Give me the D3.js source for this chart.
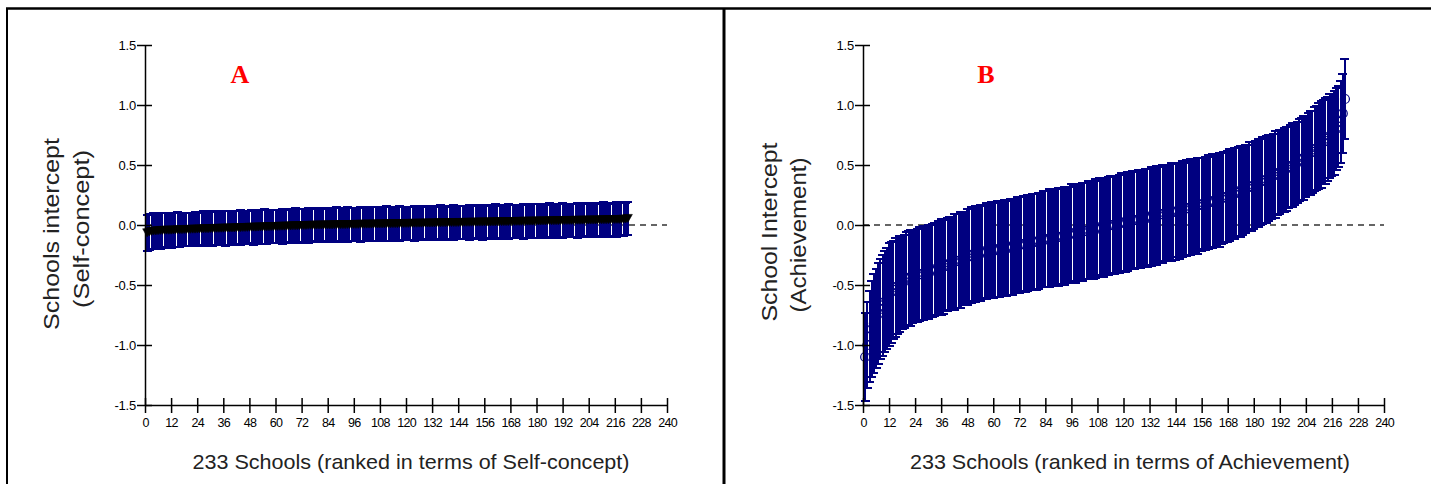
<!DOCTYPE html>
<html>
<head>
<meta charset="utf-8">
<script src="https://cdn.jsdelivr.net/npm/d3@7"></script>
<style>
  body { margin: 0; background: #fff; }
  svg { display: block; }
</style>
</head>
<body>
<svg id="chart" width="1431" height="484"></svg>
<script>
// Axis ticks
const xTicks = [0, 12, 24, 36, 48, 60, 72, 84, 96, 108, 120, 132, 144, 156, 168, 180, 192, 204, 216, 228, 240];
const yTicks = [-1.5, -1.0, -0.5, 0.0, 0.5, 1.0, 1.5];

// Panel A: school intercepts for self-concept (ranked), mean and CI half-width
const selfMean = [
  -0.065,-0.058,-0.054,-0.051,-0.049,-0.047,-0.046,-0.045,-0.044,-0.043,
  -0.044,-0.043,-0.042,-0.041,-0.040,-0.040,-0.039,-0.038,-0.037,-0.037,
  -0.036,-0.035,-0.035,-0.034,-0.033,-0.033,-0.032,-0.031,-0.031,-0.030,
  -0.030,-0.029,-0.028,-0.028,-0.027,-0.027,-0.026,-0.025,-0.025,-0.024,
  -0.024,-0.023,-0.022,-0.022,-0.021,-0.021,-0.020,-0.019,-0.019,-0.018,
  -0.018,-0.017,-0.016,-0.016,-0.015,-0.015,-0.014,-0.013,-0.013,-0.012,
  -0.012,-0.011,-0.010,-0.010,-0.009,-0.009,-0.008,-0.007,-0.007,-0.006,
  -0.006,-0.005,-0.005,-0.004,-0.003,-0.003,-0.002,-0.002,-0.001,-0.001,
  0.000,0.000,0.000,0.001,0.001,0.001,0.002,0.002,0.002,0.003,
  0.003,0.003,0.004,0.004,0.004,0.005,0.005,0.005,0.006,0.006,
  0.006,0.007,0.007,0.007,0.008,0.008,0.008,0.009,0.009,0.009,
  0.010,0.010,0.010,0.011,0.011,0.011,0.012,0.012,0.012,0.013,
  0.013,0.013,0.014,0.014,0.014,0.015,0.015,0.015,0.016,0.016,
  0.016,0.017,0.017,0.017,0.018,0.018,0.018,0.019,0.019,0.019,
  0.020,0.020,0.020,0.021,0.021,0.021,0.022,0.022,0.022,0.023,
  0.023,0.023,0.024,0.024,0.024,0.025,0.025,0.025,0.026,0.026,
  0.026,0.027,0.027,0.027,0.028,0.028,0.028,0.029,0.029,0.029,
  0.030,0.030,0.030,0.031,0.031,0.031,0.032,0.032,0.032,0.033,
  0.033,0.033,0.034,0.034,0.034,0.035,0.035,0.035,0.036,0.036,
  0.036,0.037,0.037,0.037,0.038,0.038,0.038,0.039,0.039,0.039,
  0.040,0.040,0.040,0.041,0.041,0.041,0.042,0.042,0.042,0.043,
  0.043,0.043,0.044,0.044,0.045,0.045,0.046,0.046,0.047,0.048,
  0.050,0.055
];
const selfHalf = [
  0.150,0.150,0.145,0.150,0.145,0.145,0.150,0.145,0.140,0.145,
  0.140,0.145,0.140,0.140,0.145,0.140,0.140,0.135,0.140,0.140,
  0.140,0.135,0.140,0.140,0.135,0.140,0.145,0.140,0.135,0.140,
  0.145,0.140,0.140,0.135,0.140,0.140,0.145,0.140,0.140,0.135,
  0.140,0.140,0.135,0.145,0.140,0.140,0.140,0.135,0.140,0.145,
  0.140,0.135,0.140,0.140,0.145,0.140,0.135,0.140,0.140,0.140,
  0.135,0.140,0.145,0.140,0.140,0.135,0.140,0.140,0.145,0.140,
  0.140,0.140,0.135,0.140,0.145,0.140,0.140,0.135,0.140,0.140,
  0.145,0.140,0.140,0.135,0.140,0.140,0.140,0.145,0.140,0.135,
  0.140,0.140,0.145,0.140,0.140,0.140,0.135,0.140,0.145,0.140,
  0.140,0.135,0.140,0.140,0.145,0.140,0.140,0.140,0.135,0.140,
  0.145,0.140,0.140,0.135,0.140,0.140,0.145,0.140,0.140,0.140,
  0.135,0.140,0.140,0.145,0.140,0.140,0.135,0.140,0.140,0.145,
  0.140,0.140,0.140,0.135,0.140,0.145,0.140,0.140,0.135,0.140,
  0.140,0.145,0.140,0.140,0.140,0.135,0.140,0.140,0.145,0.140,
  0.140,0.135,0.140,0.140,0.145,0.140,0.140,0.140,0.135,0.140,
  0.145,0.140,0.140,0.135,0.140,0.140,0.145,0.140,0.140,0.140,
  0.135,0.140,0.140,0.145,0.140,0.140,0.135,0.140,0.140,0.145,
  0.140,0.140,0.140,0.135,0.140,0.145,0.140,0.140,0.135,0.140,
  0.140,0.145,0.140,0.140,0.140,0.135,0.140,0.140,0.145,0.140,
  0.140,0.135,0.140,0.140,0.145,0.140,0.140,0.140,0.135,0.140,
  0.145,0.140,0.140,0.135,0.140,0.140,0.145,0.140,0.140,0.140,
  0.135,0.135
];

// Panel B: school intercepts for achievement (ranked), mean and CI half-width
const achMean = [
  -1.10,-1.00,-0.93,-0.87,-0.82,-0.78,-0.74,-0.70,-0.67,-0.64,
  -0.61,-0.58,-0.56,-0.54,-0.52,-0.51,-0.49,-0.48,-0.47,-0.45,
  -0.44,-0.44,-0.43,-0.42,-0.42,-0.41,-0.41,-0.40,-0.39,-0.39,
  -0.38,-0.38,-0.37,-0.37,-0.36,-0.35,-0.35,-0.34,-0.33,-0.32,
  -0.32,-0.31,-0.30,-0.30,-0.29,-0.28,-0.28,-0.27,-0.26,-0.25,
  -0.24,-0.24,-0.23,-0.23,-0.23,-0.22,-0.22,-0.22,-0.21,-0.21,
  -0.21,-0.20,-0.20,-0.20,-0.19,-0.19,-0.19,-0.18,-0.18,-0.17,
  -0.17,-0.17,-0.16,-0.16,-0.16,-0.15,-0.15,-0.14,-0.14,-0.14,
  -0.13,-0.13,-0.12,-0.12,-0.12,-0.11,-0.11,-0.11,-0.10,-0.10,
  -0.10,-0.09,-0.09,-0.08,-0.08,-0.07,-0.07,-0.07,-0.06,-0.06,
  -0.06,-0.05,-0.05,-0.04,-0.04,-0.04,-0.03,-0.03,-0.02,-0.02,
  -0.02,-0.01,-0.01,0.00,0.00,0.00,0.01,0.01,0.02,0.02,
  0.02,0.03,0.03,0.04,0.04,0.04,0.05,0.05,0.06,0.06,
  0.06,0.07,0.07,0.08,0.08,0.08,0.09,0.09,0.10,0.10,
  0.10,0.11,0.11,0.11,0.12,0.12,0.13,0.13,0.14,0.14,
  0.15,0.15,0.16,0.16,0.17,0.17,0.18,0.18,0.19,0.19,
  0.20,0.20,0.21,0.21,0.22,0.23,0.23,0.24,0.25,0.25,
  0.26,0.27,0.28,0.28,0.29,0.30,0.31,0.32,0.32,0.33,
  0.34,0.35,0.36,0.37,0.37,0.38,0.39,0.40,0.41,0.42,
  0.43,0.44,0.45,0.46,0.47,0.48,0.49,0.50,0.51,0.52,
  0.54,0.55,0.56,0.57,0.59,0.60,0.61,0.63,0.64,0.66,
  0.67,0.69,0.70,0.72,0.74,0.75,0.77,0.80,0.82,0.86,
  0.93,1.05
];
const achHalf = [
  0.37,0.36,0.38,0.40,0.41,0.41,0.42,0.42,0.42,0.42,
  0.42,0.43,0.42,0.41,0.41,0.40,0.40,0.39,0.39,0.39,
  0.39,0.40,0.39,0.38,0.39,0.39,0.38,0.39,0.38,0.39,
  0.38,0.39,0.39,0.38,0.39,0.40,0.39,0.38,0.39,0.39,
  0.39,0.40,0.39,0.39,0.40,0.39,0.39,0.40,0.39,0.40,
  0.39,0.40,0.39,0.40,0.39,0.39,0.40,0.39,0.40,0.40,
  0.39,0.40,0.40,0.39,0.40,0.40,0.39,0.40,0.40,0.39,
  0.40,0.40,0.39,0.40,0.40,0.40,0.39,0.40,0.40,0.40,
  0.40,0.39,0.40,0.40,0.40,0.41,0.40,0.40,0.40,0.41,
  0.40,0.40,0.41,0.40,0.40,0.41,0.40,0.41,0.40,0.40,
  0.41,0.40,0.40,0.41,0.40,0.41,0.41,0.40,0.41,0.40,
  0.41,0.40,0.41,0.41,0.40,0.41,0.40,0.41,0.41,0.40,
  0.41,0.41,0.40,0.41,0.41,0.40,0.41,0.41,0.40,0.41,
  0.41,0.40,0.41,0.40,0.41,0.40,0.40,0.41,0.40,0.40,
  0.40,0.41,0.40,0.40,0.39,0.40,0.40,0.39,0.40,0.39,
  0.40,0.39,0.39,0.40,0.39,0.39,0.38,0.39,0.39,0.38,
  0.39,0.38,0.38,0.39,0.38,0.38,0.37,0.38,0.38,0.37,
  0.38,0.37,0.37,0.38,0.37,0.37,0.36,0.37,0.37,0.36,
  0.36,0.37,0.36,0.36,0.35,0.36,0.36,0.35,0.35,0.36,
  0.35,0.35,0.34,0.35,0.35,0.34,0.34,0.35,0.34,0.34,
  0.34,0.34,0.35,0.34,0.34,0.35,0.34,0.35,0.35,0.36,
  0.36,0.35,0.36,0.35,0.35,0.34,0.35,0.34,0.34,0.34,
  0.33,0.33
];

const navy = "#000080";
const svg = d3.select("#chart");

// frame lines
svg.append("line").attr("x1", 6).attr("x2", 1431).attr("y1", 8.5).attr("y2", 8.5)
  .attr("stroke", "#000").attr("stroke-width", 2.5);
svg.append("line").attr("x1", 7).attr("x2", 7).attr("y1", 8).attr("y2", 484)
  .attr("stroke", "#000").attr("stroke-width", 2);
svg.append("line").attr("x1", 724).attr("x2", 724).attr("y1", 8).attr("y2", 484)
  .attr("stroke", "#000").attr("stroke-width", 3);

function drawPanel(p) {
  const x = d3.scaleLinear().domain([0, 240]).range([p.left, p.right]);
  const y = d3.scaleLinear().domain([-1.5, 1.5]).range([405, 45]);
  const g = svg.append("g");

  // zero reference line
  g.append("line")
    .attr("x1", x(0)).attr("x2", x(240)).attr("y1", y(0)).attr("y2", y(0))
    .attr("stroke", "#333").attr("stroke-width", 1.6).attr("stroke-dasharray", "6,5");

  const pts = p.mean.map((m, i) => ({ rank: i + 1, m: m, lo: m - p.half[i], hi: m + p.half[i] }));

  const bars = g.append("g").attr("stroke", navy).attr("shape-rendering", "crispEdges");
  bars.selectAll("line.stem").data(pts).join("line").attr("class", "stem")
    .attr("x1", d => x(d.rank)).attr("x2", d => x(d.rank))
    .attr("y1", d => y(d.lo)).attr("y2", d => y(d.hi))
    .attr("stroke-width", 2);
  bars.selectAll("line.capHi").data(pts).join("line").attr("class", "capHi")
    .attr("x1", d => x(d.rank) - 4.5).attr("x2", d => x(d.rank) + 4.5)
    .attr("y1", d => y(d.hi)).attr("y2", d => y(d.hi))
    .attr("stroke-width", 2);
  bars.selectAll("line.capLo").data(pts).join("line").attr("class", "capLo")
    .attr("x1", d => x(d.rank) - 4.5).attr("x2", d => x(d.rank) + 4.5)
    .attr("y1", d => y(d.lo)).attr("y2", d => y(d.lo))
    .attr("stroke-width", 2);

  if (p.marker === "triangle") {
    g.append("g").selectAll("path").data(pts).join("path")
      .attr("d", "M-4.5,-4L4.5,-4L0,4Z")
      .attr("transform", d => `translate(${x(d.rank)},${y(d.m)})`)
      .attr("fill", "#000").attr("stroke", "#000").attr("stroke-width", 0.6);
  } else {
    g.append("g").selectAll("circle").data(pts).join("circle")
      .attr("cx", d => x(d.rank)).attr("cy", d => y(d.m)).attr("r", 4.5)
      .attr("fill", "none").attr("stroke", navy).attr("stroke-width", 1.2);
  }

  // axes
  const yAxis = g.append("g").attr("transform", `translate(${p.left},0)`)
    .call(d3.axisLeft(y).tickValues(yTicks).tickFormat(d => d.toFixed(1))
      .tickSizeOuter(0).tickSizeInner(8).tickPadding(1));
  yAxis.selectAll(".tick line").attr("x1", 7).attr("stroke-width", 1.5);
  yAxis.select(".domain").attr("stroke-width", 1.5);
  yAxis.selectAll(".tick text")
    .attr("font-family", "'Liberation Sans', Arial, sans-serif").attr("font-size", 13)
    .attr("letter-spacing", -0.2);

  const xAxis = g.append("g").attr("transform", "translate(0,405)")
    .call(d3.axisBottom(x).tickValues(xTicks).tickSizeOuter(0).tickSizeInner(8).tickPadding(5));
  xAxis.selectAll(".tick line").attr("y1", -7).attr("stroke-width", 1.5);
  xAxis.select(".domain").attr("stroke-width", 1.5);
  xAxis.selectAll(".tick text")
    .attr("font-family", "'Liberation Sans', Arial, sans-serif").attr("font-size", 12.5)
    .attr("letter-spacing", -0.7);

  // titles
  g.append("text")
    .attr("x", p.xTitleX).attr("y", 469).attr("text-anchor", "middle")
    .attr("font-family", "'Liberation Sans', Arial, sans-serif").attr("font-size", 21)
    .attr("fill", "#222").attr("textLength", p.xTitleLen).attr("lengthAdjust", "spacingAndGlyphs")
    .text(p.xTitle);

  p.yTitle.forEach((t, i) => {
    g.append("text")
      .attr("transform", `translate(${p.yTitleX[i]},${p.yTitleY[i]}) rotate(-90)`)
      .attr("text-anchor", "middle")
      .attr("font-family", "'Liberation Sans', Arial, sans-serif").attr("font-size", 22)
      .attr("fill", "#222").attr("textLength", p.yTitleLen[i]).attr("lengthAdjust", "spacingAndGlyphs")
      .text(t);
  });

  g.append("text")
    .attr("x", p.labelX).attr("y", 83).attr("text-anchor", "middle")
    .attr("font-family", "'Liberation Serif', 'Times New Roman', serif")
    .attr("font-weight", "bold").attr("font-size", 26).attr("fill", "#ff0000")
    .text(p.label);
}

drawPanel({
  left: 145, right: 667, mean: selfMean, half: selfHalf, marker: "triangle",
  label: "A", labelX: 240,
  xTitle: "233 Schools (ranked in terms of Self-concept)", xTitleX: 411, xTitleLen: 437,
  yTitle: ["Schools intercept", "(Self-concept)"],
  yTitleX: [59, 89], yTitleY: [234, 229], yTitleLen: [192, 158]
});

drawPanel({
  left: 863, right: 1384, mean: achMean, half: achHalf, marker: "circle",
  label: "B", labelX: 986,
  xTitle: "233 Schools (ranked in terms of Achievement)", xTitleX: 1130, xTitleLen: 440,
  yTitle: ["School Intercept", "(Achievement)"],
  yTitleX: [777, 806], yTitleY: [232, 235], yTitleLen: [179, 155]
});
</script>
</body>
</html>
